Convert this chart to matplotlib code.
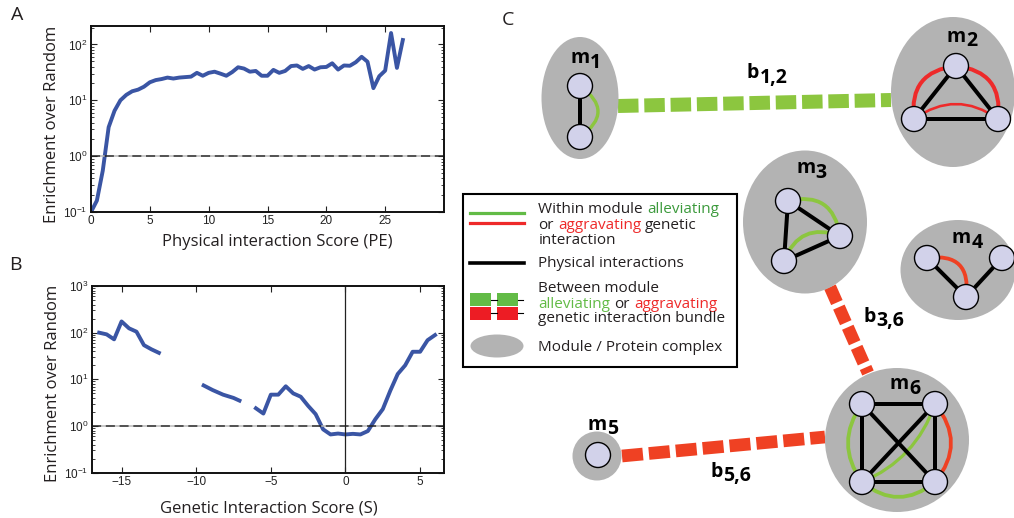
import numpy as np
import matplotlib
matplotlib.use('Agg')
import matplotlib.pyplot as plt
from matplotlib.patches import Ellipse, Circle, Rectangle, PathPatch
from matplotlib.path import Path
from matplotlib.ticker import LogLocator, NullFormatter, FuncFormatter, FixedLocator

plt.rcParams['mathtext.fontset'] = 'custom'
plt.rcParams['mathtext.rm'] = 'Liberation Sans'
plt.rcParams['mathtext.it'] = 'Liberation Sans:italic'
plt.rcParams['mathtext.bf'] = 'Liberation Sans:bold'
plt.rcParams['font.family'] = ['Liberation Sans', 'DejaVu Sans']

# ---------------- data ----------------
# Panel A: physical interaction score vs enrichment
pe_score = [0.0, 0.5, 1.0, 1.5, 2.0, 2.5, 3.0, 3.5, 4.0, 4.5, 5.0, 5.5, 6.0, 6.5,
            7.0, 7.5, 8.0, 8.5, 9.0, 9.5, 10.0, 10.5, 11.0, 11.5, 12.0, 12.5, 13.0,
            13.5, 14.0, 14.5, 15.0, 15.5, 16.0, 16.5, 17.0, 17.5, 18.0, 18.5, 19.0,
            19.5, 20.0, 20.5, 21.0, 21.5, 22.0, 22.5, 23.0, 23.5, 24.0, 24.5, 25.0,
            25.5, 26.0, 26.5]
pe_enrich = [0.1, 0.16, 0.55, 3.3, 6.5, 10, 12.5, 14.5, 15.5, 17.5, 21, 23, 24, 25.5,
             24.5, 25.5, 26, 26.5, 31, 27.5, 31, 32.5, 30, 27.5, 32, 39, 37,
             32.5, 33.5, 27.5, 27.5, 35, 31, 33.5, 41, 42, 36.5, 41, 35.5,
             39, 39.5, 46, 35.5, 42, 41.5, 48, 60, 49, 16.5, 27, 34,
             160, 38, 120]

# Panel B: genetic interaction score vs enrichment (gaps = missing bins)
s_score = [-16.5, -16.0, -15.5, -15.0, -14.5, -14.0, -13.5, -13.0, -12.5, np.nan,
           -9.5, -8.9, -8.2, -7.5, -7.1, np.nan,
           -6.0, -5.5, -5.0, -4.5, -4.0, -3.5, -3.0, -2.5, -2.0, -1.5, -1.0, -0.5,
           0.0, 0.5, 1.0, 1.5, 2.0, 2.5, 3.0, 3.5, 4.0, 4.5, 5.0, 5.5, 6.0]
s_enrich = [100, 92, 72, 174, 124, 105, 54, 44, 37, np.nan,
            7.4, 5.9, 4.7, 4.0, 3.5, np.nan,
            2.4, 1.85, 4.7, 4.7, 7.1, 5.0, 4.25, 2.7, 1.8, 0.85, 0.66, 0.69,
            0.66, 0.68, 0.66, 0.78, 1.4, 2.3, 5.7, 13, 20, 39, 39, 69, 89]

a_xticks = [0, 5, 10, 15, 20, 25]
b_xticks = [-15, -10, -5, 0, 5]

FONT = 'Open Sans'
BLUE = '#3a55a4'
GREEN = '#8cc63f'
GREEN_D = '#3c9a3c'
RED = '#ef4123'
RED_T = '#ee2a2a'
GRAY = '#b3b3b3'
NODE = '#d2d2ea'
INK = '#231f20'

fig = plt.figure(figsize=(10.14, 5.18), dpi=100)
W, H = 1014, 518

def frac_rect(x0, y0, x1, y1):
    return [x0 / W, 1 - y1 / H, (x1 - x0) / W, (y1 - y0) / H]

axA = fig.add_axes(frac_rect(91, 26, 444, 212))
axB = fig.add_axes(frac_rect(91.7, 286, 444, 472.7))

logfmt = FuncFormatter(lambda v, p: r'$\mathregular{10^{%d}}$' % int(round(np.log10(v))))

def style(ax):
    ax.set_yscale('log')
    ax.yaxis.set_major_locator(LogLocator(base=10, numticks=10))
    ax.yaxis.set_minor_locator(LogLocator(base=10, subs=np.arange(2, 10), numticks=20))
    ax.yaxis.set_major_formatter(logfmt)
    ax.yaxis.set_minor_formatter(NullFormatter())
    ax.tick_params(which='both', direction='in', top=True, right=True,
                   labelsize=8.5, colors='#222222', pad=2.5)
    ax.tick_params(which='major', length=4, width=0.8)
    ax.tick_params(which='minor', length=2, width=0.6)
    for sp in ax.spines.values():
        sp.set_linewidth(1.4)
        sp.set_color('#111111')

# Panel A
axA.plot(pe_score, pe_enrich, color=BLUE, lw=2.8, solid_joinstyle='round')
axA.axhline(1, color='#222222', lw=1.1, linestyle=(0, (6, 3)), gapcolor='#bbbbbb')
style(axA)
axA.set_xlim(0, 30)
axA.set_ylim(0.1, 10 ** 2.33)
axA.xaxis.set_major_locator(FixedLocator(a_xticks))
axA.set_ylabel('Enrichment over Random', family=FONT, fontsize=12, color=INK, va='center')
axA.yaxis.set_label_coords(-0.11, 0.47)
axA.set_xlabel('Physical interaction Score (PE)', family=FONT, fontsize=12, color=INK, va='center')
axA.xaxis.set_label_coords(0.528, -0.161)

# Panel B
axB.plot(s_score, s_enrich, color=BLUE, lw=2.8, solid_joinstyle='round')
axB.axhline(1, color='#222222', lw=1.1, linestyle=(0, (6, 3)), gapcolor='#bbbbbb')
axB.axvline(0, color='#222222', lw=0.9)
style(axB)
axB.set_xlim(-17, 6.6)
axB.set_ylim(0.1, 1000)
axB.xaxis.set_major_locator(FixedLocator(b_xticks))
axB.set_ylabel('Enrichment over Random', family=FONT, fontsize=12, color=INK, va='center')
axB.yaxis.set_label_coords(-0.11, 0.476)
axB.set_xlabel('Genetic Interaction Score (S)', family=FONT, fontsize=12, color=INK, va='center')
axB.xaxis.set_label_coords(0.503, -0.19)

# ---------------- Panel C (diagram in pixel coordinates) ----------------
axC = fig.add_axes([0, 0, 1, 1])
axC.set_xlim(0, W)
axC.set_ylim(H, 0)
axC.axis('off')

for lab, (x, y) in {'A': (17, 15), 'B': (15, 265), 'C': (508, 20)}.items():
    axC.text(x, y, lab, family=FONT, fontsize=14, color=INK, ha='center', va='center')

PX = 0.72  # px -> pt

modules = {
    'm1': dict(c=(580, 98), w=77, h=122),
    'm2': dict(c=(953, 92), w=124, h=150),
    'm3': dict(c=(805, 222), w=124, h=143),
    'm4': dict(c=(958, 270), w=115, h=100),
    'm5': dict(c=(597, 456), w=49, h=49),
    'm6': dict(c=(897, 440), w=144, h=144),
}
nodes = {
    'a1': (580, 86), 'a2': (580, 137),
    'b1': (956, 66), 'b2': (914, 119), 'b3': (998, 119),
    'c1': (788, 201), 'c2': (840, 236), 'c3': (784, 261),
    'd1': (927, 258), 'd2': (966, 297), 'd3': (1002, 258),
    'e1': (598, 455),
    'f1': (862, 404), 'f2': (935, 404), 'f3': (862, 482), 'f4': (935, 482),
}
phys_edges = [('a1', 'a2'), ('b1', 'b2'), ('b1', 'b3'), ('b2', 'b3'),
              ('c1', 'c2'), ('c1', 'c3'), ('c3', 'c2'), ('d1', 'd2'), ('d2', 'd3'),
              ('f1', 'f2'), ('f1', 'f3'), ('f2', 'f4'), ('f3', 'f4'), ('f1', 'f4'), ('f2', 'f3')]
gen_arcs = [('a1', 'a2', -18, GREEN, 3.4),
            ('b1', 'b2', 17, '#ee2a2a', 4.0), ('b1', 'b3', -17, '#ee2a2a', 4.0),
            ('b2', 'b3', -15, '#ee2a2a', 2.6),
            ('c1', 'c2', -17, GREEN, 3.8), ('c3', 'c2', -15, GREEN, 3.8),
            ('d1', 'd2', -18, RED, 3.8),
            ('f1', 'f3', 14, GREEN, 3.8), ('f3', 'f4', 15, GREEN, 3.8),
            ('f2', 'f4', -16, RED, 3.8), ('f2', 'f3', -12, GREEN, 3.2)]
bundles = [((618, 106), (891, 100), GREEN, 14, 20.5, 5.8),
           ((830, 287), (868, 373), RED, 12.5, 17, 5),
           ((622, 456), (825, 437), RED, 12.7, 21, 6)]

for m in modules.values():
    axC.add_patch(Ellipse(m['c'], m['w'], m['h'], facecolor=GRAY, edgecolor='none', zorder=1))

for (p0, p1, col, th, dash, gap) in bundles:
    axC.plot([p0[0], p1[0]], [p0[1], p1[1]], color=col, lw=th * PX,
             linestyle=(0, (dash / th, gap / th)), dash_capstyle='butt',
             solid_capstyle='butt', zorder=0.5)

for a, b in phys_edges:
    (x0, y0), (x1, y1) = nodes[a], nodes[b]
    axC.plot([x0, x1], [y0, y1], color='black', lw=4 * PX, zorder=3, solid_capstyle='butt')

for a, b, bulge, col, lw in gen_arcs:
    (x0, y0), (x1, y1) = nodes[a], nodes[b]
    dx, dy = x1 - x0, y1 - y0
    L = np.hypot(dx, dy)
    nx, ny = -dy / L, dx / L
    cx, cy = (x0 + x1) / 2 + 2 * bulge * nx, (y0 + y1) / 2 + 2 * bulge * ny
    path = Path([(x0, y0), (cx, cy), (x1, y1)], [Path.MOVETO, Path.CURVE3, Path.CURVE3])
    axC.add_patch(PathPatch(path, fill=False, edgecolor=col, lw=lw * PX, zorder=2.5))

for (x, y) in nodes.values():
    axC.add_patch(Circle((x, y), 12.5, facecolor=NODE, edgecolor='black', lw=1.0, zorder=4))

renderer = fig.canvas.get_renderer()

def text_w(s, **kw):
    t = axC.text(0, 0, s, **kw)
    w = t.get_window_extent(renderer).width
    t.remove()
    return w

def sub_label(x, y, main, sub, size=14):
    kw = dict(family=FONT, fontsize=size, fontweight='bold', color='black', va='baseline')
    axC.text(x, y, main, ha='left', zorder=6, **kw)
    w = text_w(main, **kw)
    axC.text(x + w + 0.5, y + 4.5, sub, ha='left', zorder=6, **kw)

sub_label(570, 63.3, 'm', '1')
sub_label(946.7, 41.7, 'm', '2')
sub_label(796, 173.3, 'm', '3')
sub_label(951.7, 243.3, 'm', '4')
sub_label(587.3, 430, 'm', '5')
sub_label(889.3, 389, 'm', '6')
sub_label(746.7, 78.3, 'b', '1,2')
sub_label(863.3, 321.7, 'b', '3,6')
sub_label(710, 476.7, 'b', '5,6')

# Legend box
axC.add_patch(Rectangle((463, 194), 274, 173, facecolor='white', edgecolor='black', lw=1.5, zorder=7))
axC.plot([470, 524], [213, 213], color='#62bb46', lw=3.2 * PX, zorder=8)
axC.plot([470, 524], [223, 223], color='#ee2a2a', lw=3.2 * PX, zorder=8)
axC.plot([470, 524], [263, 263], color='black', lw=3.6 * PX, zorder=8)
for (x0, x1) in [(470, 491), (497, 518)]:
    axC.add_patch(Rectangle((x0, 293), x1 - x0, 13, facecolor='#62bb46', edgecolor='none', zorder=8))
    axC.add_patch(Rectangle((x0, 306.5), x1 - x0, 13, facecolor='#ed1c24', edgecolor='none', zorder=8))
for yy in (299.5, 313):
    axC.plot([491, 497], [yy, yy], color='black', lw=0.8, zorder=8)
    axC.plot([518, 523], [yy, yy], color='black', lw=0.8, zorder=8)
axC.add_patch(Ellipse((497, 346), 53, 23, facecolor=GRAY, edgecolor='none', zorder=8))

LKW = dict(family=FONT, fontsize=11, va='baseline', ha='left', zorder=9)
space = text_w('a a', **LKW) - text_w('aa', **LKW)

def rich(x, y, pieces):
    for s, col in pieces:
        axC.text(x, y, s, color=col, **LKW)
        x += text_w(s, **LKW) + space

lx = 538.3
rich(lx, 213, [('Within module', INK), ('alleviating', GREEN_D)])
rich(lx, 229, [('or', INK), ('aggravating', RED_T), ('genetic', INK)])
rich(lx, 244, [('interaction', INK)])
rich(lx, 267, [('Physical interactions', INK)])
rich(lx, 292.5, [('Between module', INK)])
rich(lx, 307.5, [('alleviating', '#62bb46'), ('or', INK), ('aggravating', RED_T)])
rich(lx, 321.7, [('genetic interaction bundle', INK)])
rich(lx, 350.7, [('Module / Protein complex', INK)])

fig.savefig('out.png', dpi=100)
